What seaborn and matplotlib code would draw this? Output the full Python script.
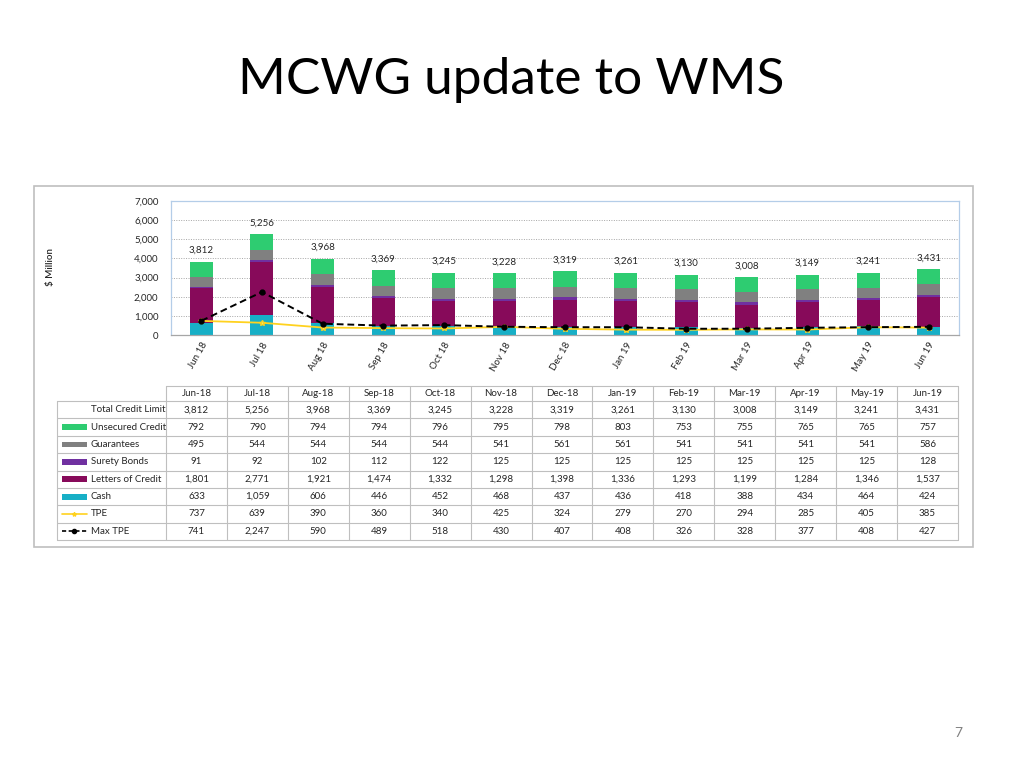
import numpy as np
import pandas as pd
import matplotlib
matplotlib.use("Agg")
import matplotlib.pyplot as plt
import seaborn as sns
from matplotlib.patches import Rectangle

sns.set_theme(style="white")
plt.rcParams['font.family'] = ['Lato', 'DejaVu Sans']

months = ['Jun-18', 'Jul-18', 'Aug-18', 'Sep-18', 'Oct-18', 'Nov-18', 'Dec-18',
          'Jan-19', 'Feb-19', 'Mar-19', 'Apr-19', 'May-19', 'Jun-19']
axis_labels = ['Jun 18', 'Jul 18', 'Aug 18', 'Sep 18', 'Oct 18', 'Nov 18', 'Dec 18',
               'Jan 19', 'Feb 19', 'Mar 19', 'Apr 19', 'May 19', 'Jun 19']
total_limit = [3812, 5256, 3968, 3369, 3245, 3228, 3319, 3261, 3130, 3008, 3149, 3241, 3431]
unsecured = [792, 790, 794, 794, 796, 795, 798, 803, 753, 755, 765, 765, 757]
guarantees = [495, 544, 544, 544, 544, 541, 561, 561, 541, 541, 541, 541, 586]
surety = [91, 92, 102, 112, 122, 125, 125, 125, 125, 125, 125, 125, 128]
letters = [1801, 2771, 1921, 1474, 1332, 1298, 1398, 1336, 1293, 1199, 1284, 1346, 1537]
cash = [633, 1059, 606, 446, 452, 468, 437, 436, 418, 388, 434, 464, 424]
tpe = [737, 639, 390, 360, 340, 425, 324, 279, 270, 294, 285, 405, 385]
max_tpe = [741, 2247, 590, 489, 518, 430, 407, 408, 326, 328, 377, 408, 427]

C_UNSEC = '#2ECC71'
C_GUAR = '#808080'
C_SURETY = '#7030A0'
C_LOC = '#870A5A'
C_CASH = '#17AFC6'
C_TPE = '#FFD21F'

df = pd.DataFrame({'month': months, 'cash': cash, 'loc': letters, 'surety': surety,
                   'guar': guarantees, 'unsec': unsecured})
# stacked layers bottom -> top
layers = [('cash', C_CASH), ('loc', C_LOC), ('surety', C_SURETY),
          ('guar', C_GUAR), ('unsec', C_UNSEC)]
cum = df[[k for k, _ in layers]].cumsum(axis=1)

W, H = 1024, 768
fig = plt.figure(figsize=(W / 100, H / 100), dpi=100)
fig.patch.set_facecolor('white')


def px_axes(l, t, r, b):
    return fig.add_axes([l / W, 1 - b / H, (r - l) / W, (b - t) / H])


# title + page number + frame
fig.text(511 / W, 1 - 80 / H, 'MCWG update to WMS', ha='center', va='center',
         fontsize=37, color='black')
fig.text(958 / W, 1 - 733 / H, '7', ha='center', va='center', fontsize=10, color='#808080')
fig.patches.append(Rectangle((34 / W, 1 - 547 / H), (973 - 34) / W, (547 - 186) / H,
                             transform=fig.transFigure, fill=False,
                             edgecolor='#BFBFBF', lw=1.2))

# ---- chart ----
ax = px_axes(171, 201, 959, 335)
for key, col in reversed(layers):
    sns.barplot(x=df['month'], y=cum[key], color=col, saturation=1, width=0.38,
                errorbar=None, linewidth=0, ax=ax)

xs = np.arange(len(months))
ax.plot(xs, tpe, color=C_TPE, lw=1.3, marker='*', ms=4, mfc='#E8F07A', mec=C_TPE, zorder=4)
ax.plot(xs, max_tpe, color='black', lw=1.4, ls=(0, (3.5, 2)), marker='o', ms=3.5, zorder=5)

for i, v in enumerate(total_limit):
    ax.annotate(f'{v:,}', (i, v), xytext=(0, 5), textcoords='offset points',
                ha='center', va='bottom', fontsize=7, color='#262626')

ax.set_xlim(-0.5, len(months) - 0.5)
ax.set_ylim(0, 7000)
ax.set_yticks(range(0, 7001, 1000))
ax.set_yticklabels([f'{t:,}' for t in range(0, 7001, 1000)])
ax.set_xticks(xs)
ax.set_xticklabels(axis_labels, rotation=60, ha='right', rotation_mode='anchor')
ax.set_xlabel('')
ax.set_ylabel('')
ax.yaxis.grid(True, linestyle=(0, (1, 1.5)), color='#A6A6A6', lw=0.7)
ax.set_axisbelow(True)
ax.tick_params(axis='both', length=0, labelsize=7, colors='#262626')
ax.tick_params(axis='y', pad=9)
ax.tick_params(axis='x', pad=4)
for s in ax.spines.values():
    s.set_visible(True)
    s.set_color('#B4CDE8')
    s.set_linewidth(0.9)
ax.spines['bottom'].set_color('#A6A6A6')
fig.text(50 / W, 1 - 267 / H, '$ Million', rotation=90, ha='center', va='center',
         fontsize=7, fontweight='semibold', color='#262626')

# ---- data table ----
tab = px_axes(57, 386, 958, 540)
lab_w = (166 - 57) / ((958 - 166) / 13)
x0 = -0.5 - lab_w
x1 = len(months) - 0.5
hdr = 0.87
nrows = 8
tab.set_xlim(x0, x1)
tab.set_ylim(hdr + nrows, 0)
tab.axis('off')
gc = '#BFBFBF'

# grid lines
tab.plot([-0.5, x1], [0, 0], color=gc, lw=0.8, clip_on=False)
for r in range(nrows + 1):
    tab.plot([x0, x1], [hdr + r, hdr + r], color=gc, lw=0.8, clip_on=False)
tab.plot([x0, x0], [hdr, hdr + nrows], color=gc, lw=0.8, clip_on=False)
for c in range(len(months) + 1):
    tab.plot([c - 0.5, c - 0.5], [0, hdr + nrows], color=gc, lw=0.8, clip_on=False)

for i, m in enumerate(months):
    tab.text(i, hdr / 2, m, ha='center', va='center', fontsize=7, color='#262626')

row_names = ['Total Credit Limit', 'Unsecured Credit', 'Guarantees', 'Surety Bonds',
             'Letters of Credit', 'Cash', 'TPE', 'Max TPE']
row_vals = [total_limit, unsecured, guarantees, surety, letters, cash, tpe, max_tpe]
row_keys = [None, C_UNSEC, C_GUAR, C_SURETY, C_LOC, C_CASH, 'tpe', 'max']

sw0 = x0 + 5 / 61
sw1 = x0 + 30 / 61
txt_x = x0 + 34 / 61
for r, (name, vals, key) in enumerate(zip(row_names, row_vals, row_keys)):
    yc = hdr + r + 0.5
    tab.text(txt_x, yc, name, ha='left', va='center', fontsize=7, color='#262626')
    if key == 'tpe':
        tab.plot([sw0, sw1], [yc, yc], color=C_TPE, lw=1.2)
        tab.plot([(sw0 + sw1) / 2], [yc], marker='*', ms=3, color=C_TPE)
    elif key == 'max':
        tab.plot([sw0, sw1], [yc, yc], color='black', lw=1.2, ls=(0, (2.5, 1.5)))
        tab.plot([(sw0 + sw1) / 2], [yc], marker='o', ms=3, color='black')
    elif key is not None:
        tab.add_patch(Rectangle((sw0, yc - 0.17), sw1 - sw0, 0.34, color=key, lw=0))
    for i, v in enumerate(vals):
        tab.text(i, yc, f'{v:,}', ha='center', va='center', fontsize=7, color='#262626')

fig.savefig('out.png', dpi=100, facecolor='white')
